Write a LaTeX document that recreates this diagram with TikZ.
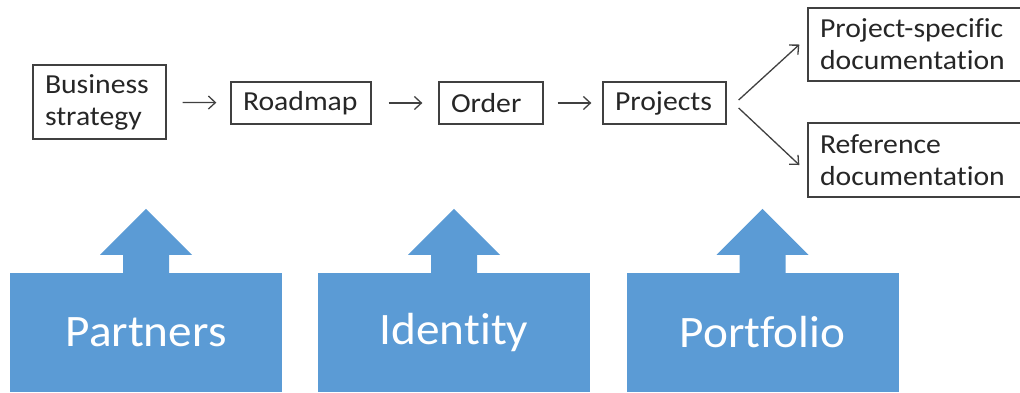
\documentclass[tikz,border=0pt]{standalone}
\usepackage{fontspec}
\setmainfont{Carlito}[FakeStretch=1.08, Ligatures=NoCommon]
\newfontfamily\pillarfont{Carlito}[FakeStretch=1.05, Ligatures=NoCommon]
\usetikzlibrary{arrows.meta,calc}
\definecolor{pillarblue}{RGB}{91,155,213}
\definecolor{boxline}{RGB}{64,64,64}

\begin{document}
\begin{tikzpicture}[x=1pt, y=1pt, >={Straight Barb[length=7pt,width=13pt]},
  stage/.style={draw=boxline, line width=1.3pt, inner xsep=12pt, inner ysep=0pt,
    align=left, text=black!85, font=\fontsize{27.5}{32}\selectfont},
  pillar/.style={fill=pillarblue, minimum width=272pt, minimum height=119pt,
    inner sep=0pt, text=white, font=\pillarfont\fontsize{45}{54}\selectfont},
  flow/.style={->, draw=boxline, line width=1.3pt}]
  \useasboundingbox (0,0) rectangle (1020,-392);
  \clip (0,0) rectangle (1020,-392);

  % top row
  \node[stage, text width=109pt, minimum height=74pt] (strategy) at (99.5,-102) {Business\\strategy};
  \node[stage, text width=116pt, minimum height=42pt] (roadmap) at (301,-103) {Roadmap};
  \node[stage, text width=80pt, minimum height=42pt] (order) at (491,-103) {Order};
  \node[stage, text width=99pt, minimum height=42pt] (projects) at (664.5,-103) {Projects};
  \node[stage, text width=196pt, minimum height=73pt] (specific) at (918,-44.5) {Project-specific\\documentation};
  \node[stage, text width=196pt, minimum height=74pt] (reference) at (918,-160) {Reference\\documentation};

  \draw[flow, shorten <=16pt, shorten >=14pt] (strategy) -- (roadmap);
  \draw[flow, shorten <=17pt, shorten >=16pt] (roadmap) -- (order);
  \draw[flow, shorten <=14pt, shorten >=11pt] (order) -- (projects);
  \draw[flow] ($(projects.east)+(12,3)$) -- ($(specific.west)+(-8,0)$);
  \draw[flow] ($(projects.east)+(12,-5)$) -- ($(reference.west)+(-8,-5)$);

  % bottom pillars
  \node[pillar] (partners) at (146,-332.5) {Partners};
  \node[pillar] (identity) at (454,-332.5) {Identity};
  \node[pillar] (portfolio) at (762.5,-332.5) {Portfolio};
  \foreach \p in {partners, identity, portfolio}
    \fill[pillarblue] ($(\p.north)+(-23,-1)$) -- ++(0,19) -- ++(-23,0) -- ++(46,46)
      -- ++(46,-46) -- ++(-23,0) -- ++(0,-19) -- cycle;
\end{tikzpicture}
\end{document}
